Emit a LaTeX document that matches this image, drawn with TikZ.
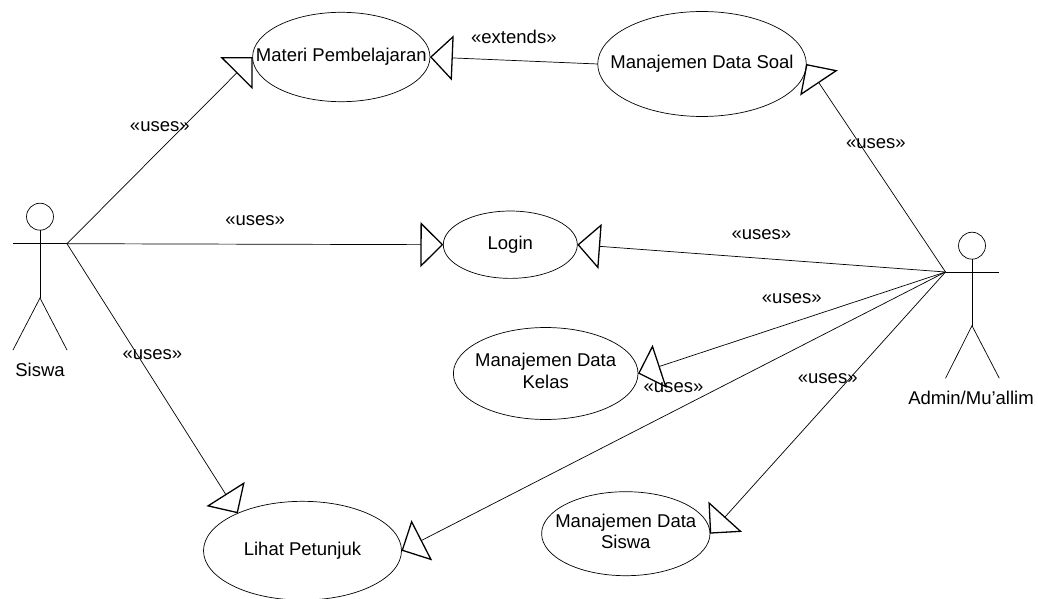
\documentclass[tikz,border=0pt]{standalone}
\usepackage{fontspec}
\setmainfont{Liberation Sans}
\usetikzlibrary{arrows.meta}
\usetikzlibrary{shapes.geometric}

\newcommand{\casetext}[1]{\makebox[0pt]{\begin{tabular}{@{}c@{}}#1\end{tabular}}}

\begin{document}
\begin{tikzpicture} [x=.03cm,y=.03cm,
  font=\fontsize{15.8}{18.6}\selectfont,
  line width=.6pt,
  usecase/.style={draw,ellipse,inner sep=0,outer sep=0},
  actorhead/.style={draw,circle,inner sep=0,outer sep=0,minimum size=23},
  usesline/.style={-{Triangle[open,length=19.5pt,width=38.5pt,line width=1.1pt]}},
  lbl/.style={midway,yshift=20.5}]

\useasboundingbox (0,0) rectangle (1038,-599);

% use cases
\node[usecase,minimum width=151.4,minimum height=76.3] (materi) at (341.3,-57) {\casetext{Materi Pembelajaran}};
\node[usecase,minimum width=178,minimum height=89.6] (soal) at (702,-64) {\casetext{Manajemen Data Soal}};
\node[usecase,minimum width=114.4,minimum height=57.5] (login) at (510.3,-244.7) {\casetext{Login}};
\node[usecase,minimum width=157.6,minimum height=78.5] (kelas) at (545.7,-373.5) {\casetext{Manajemen Data\\Kelas}};
\node[usecase,minimum width=169,minimum height=84.3] (lihat) at (302.5,-550.7) {\casetext{Lihat Petunjuk}};
\node[usecase,minimum width=143.7,minimum height=71.7] (siswaData) at (625.8,-533.7) {\casetext{Manajemen Data\\Siswa}};

% actor on the left
\node[actorhead] (siswaHead) at (40,-216.7) {};
\coordinate (siswaArmL) at (13,-243.7);
\coordinate (siswaArmR) at (67,-243.7);
\coordinate (siswaHip) at (40,-298);
\coordinate (siswaFootL) at (13,-350);
\coordinate (siswaFootR) at (67,-350);
\node (siswaName) at (40,-370) {Siswa};

\draw (siswaHead.south) -- (siswaHip);
\draw (siswaArmL) -- (siswaArmR);
\draw (siswaFootL) -- (siswaHip) -- (siswaFootR);

% actor on the right
\node[actorhead] (adminHead) at (972,-245.7) {};
\coordinate (adminArmL) at (945.5,-272);
\coordinate (adminArmR) at (999.3,-272);
\coordinate (adminHip) at (972,-325.7);
\coordinate (adminFootL) at (945.5,-378.3);
\coordinate (adminFootR) at (999.3,-378.3);
\node (adminName) at (971,-398) {Admin/Mu'allim};

\draw (adminHead.south) -- (adminHip);
\draw (adminArmL) -- (adminArmR);
\draw (adminFootL) -- (adminHip) -- (adminFootR);

% connectors
\draw[usesline] (siswaArmR) --(materi.west) node[lbl] (usesA) {«uses»};
\draw[usesline] (siswaArmR) --(login.west) node[lbl] (usesB) {«uses»};
\draw[usesline] (siswaArmR) --(lihat.150) node[lbl] (usesC) {«uses»};
\draw[usesline] (soal.west) --(materi.east) node[lbl] (extendsA) {«extends»};
\draw[usesline] (adminArmL) --(soal.east) node[lbl] (usesD) {«uses»};
\draw[usesline] (adminArmL) --(login.east) node[lbl] (usesE) {«uses»};
\draw[usesline] (adminArmL) --(kelas.east) node[lbl] (usesF) {«uses»};
\draw[usesline] (adminArmL) --(lihat.east) node[lbl] (usesG) {«uses»};
\draw[usesline] (adminArmL) --(siswaData.east) node[lbl] (usesH) {«uses»};

\end{tikzpicture}
\end{document}
